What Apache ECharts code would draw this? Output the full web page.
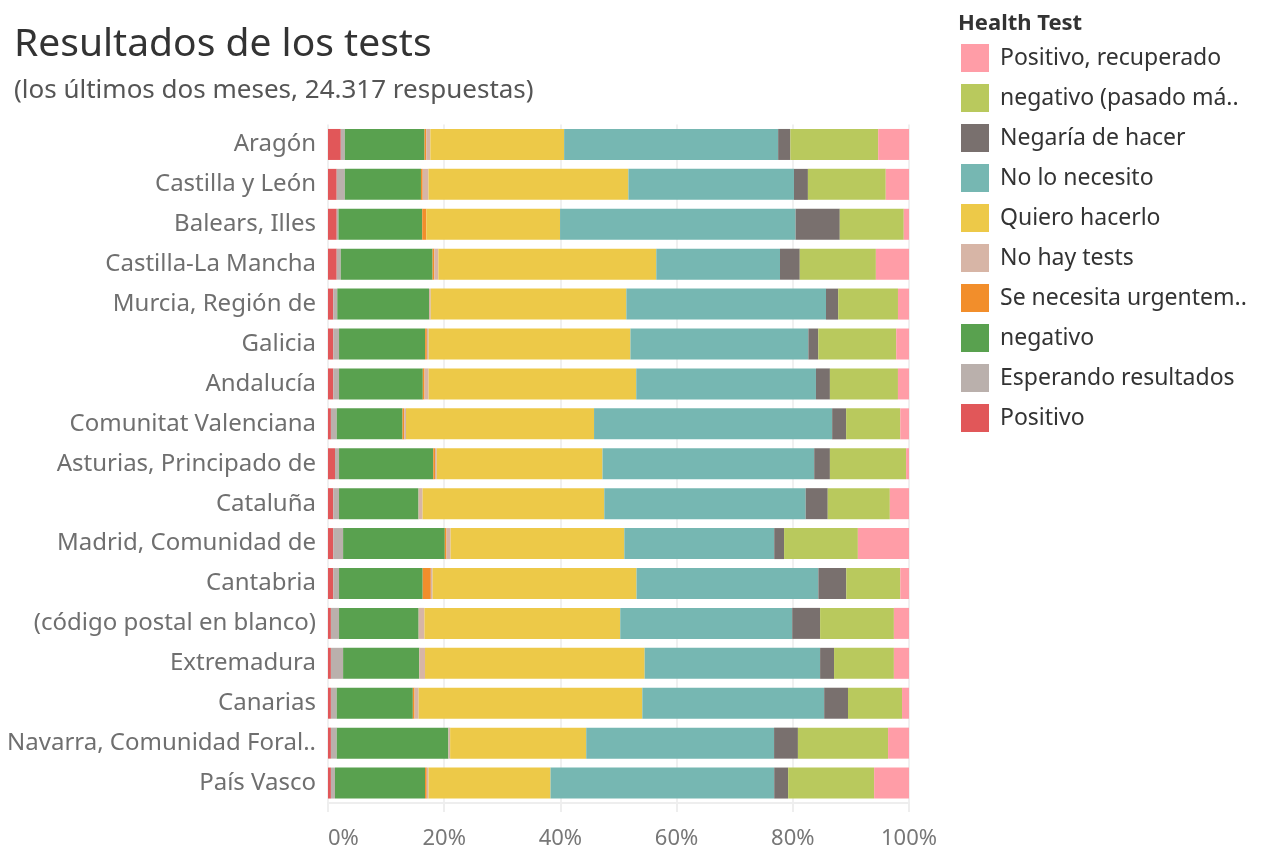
<!DOCTYPE html>
<html>
<head>
<meta charset="utf-8">
<title>Resultados de los tests</title>
<script src="https://cdn.jsdelivr.net/npm/echarts@6/dist/echarts.min.js"></script>
<style>
  html, body { margin: 0; padding: 0; background: #fff; }
  #chart { width: 1263px; height: 850px; }
</style>
</head>
<body>
<div id="chart"></div>
<script>
// categories, top to bottom
var regiones = [
  'Aragón', 'Castilla y León', 'Balears, Illes', 'Castilla-La Mancha',
  'Murcia, Región de', 'Galicia', 'Andalucía', 'Comunitat Valenciana',
  'Asturias, Principado de', 'Cataluña', 'Madrid, Comunidad de', 'Cantabria',
  '(código postal en blanco)', 'Extremadura', 'Canarias',
  'Navarra, Comunidad Foral..', 'País Vasco'
]

// share of answers (%) per region, in stacking order (left to right)
var positivo      = [2.2, 1.5, 1.5, 1.5, 0.9, 0.9, 0.9, 0.5, 1.2, 0.9, 0.9, 0.9, 0.5, 0.5, 0.5, 0.5, 0.5]
var esperando     = [0.7, 1.4, 0.3, 0.7, 0.7, 1.0, 1.0, 1.0, 0.7, 1.0, 1.7, 1.0, 1.4, 2.1, 1.0, 1.0, 0.7]
var negativo      = [13.7, 13.1, 14.4, 15.8, 15.8, 14.8, 14.4, 11.3, 16.2, 13.7, 17.5, 14.4, 13.7, 13.1, 13.1, 19.2, 15.5]
var urgente       = [0.3, 0.3, 0.7, 0.3, 0, 0.3, 0.3, 0.3, 0.3, 0, 0.3, 1.4, 0, 0, 0.3, 0, 0.3]
var noHayTests    = [0.7, 1.0, 0, 0.7, 0.3, 0.3, 0.7, 0.3, 0.3, 0.7, 0.7, 0.3, 1.0, 1.0, 0.7, 0.3, 0.3]
var quiero        = [23.0, 34.4, 23.0, 37.5, 33.7, 34.7, 35.7, 32.3, 28.5, 31.3, 29.9, 35.1, 33.7, 37.8, 38.5, 23.4, 21.0]
var noNecesito    = [36.8, 28.5, 40.5, 21.3, 34.4, 30.6, 30.9, 40.9, 36.4, 34.7, 25.8, 31.3, 29.6, 30.2, 31.3, 32.3, 38.5]
var negaria       = [2.1, 2.4, 7.6, 3.4, 2.1, 1.7, 2.4, 2.4, 2.7, 3.8, 1.7, 4.8, 4.8, 2.4, 4.1, 4.1, 2.4]
var negativoPas   = [15.1, 13.4, 11.0, 13.1, 10.3, 13.4, 11.7, 9.3, 13.1, 10.7, 12.7, 9.3, 12.7, 10.3, 9.3, 15.5, 14.8]
var recuperado    = [5.3, 4.0, 0.9, 5.7, 1.9, 2.2, 1.9, 1.5, 0.5, 3.3, 8.8, 1.5, 2.6, 2.6, 1.2, 3.6, 6.0]

var xTicks = [0, 20, 40, 60, 80, 100]

var seriesDefs = [
  { name: 'Positivo', data: positivo, color: '#E15759' },
  { name: 'Esperando resultados', data: esperando, color: '#BAB0AC' },
  { name: 'negativo', data: negativo, color: '#59A14F' },
  { name: 'Se necesita urgentem..', data: urgente, color: '#F28E2B' },
  { name: 'No hay tests', data: noHayTests, color: '#D7B5A6' },
  { name: 'Quiero hacerlo', data: quiero, color: '#EDC948' },
  { name: 'No lo necesito', data: noNecesito, color: '#76B7B2' },
  { name: 'Negaría de hacer', data: negaria, color: '#79706E' },
  { name: 'negativo (pasado má..', data: negativoPas, color: '#B9C95D' },
  { name: 'Positivo, recuperado', data: recuperado, color: '#FF9DA7' }
]

// row totals, so each bar adds up to 100%
var totals = regiones.map(function(r, i) {
  return seriesDefs.reduce(function(s, d) { return s + d.data[i] }, 0)
})

var font = '"Noto Sans", sans-serif'

var myChart = echarts.init(document.getElementById('chart'))
myChart.setOption({
  animation: false,
  backgroundColor: '#fff',
  title: [
    {
      text: 'Resultados de los tests',
      subtext: '(los últimos dos meses, 24.317 respuestas)',
      left: 9,
      top: 20,
      itemGap: 14,
      textStyle: { fontFamily: font, fontSize: 39, fontWeight: 'normal', color: '#333' },
      subtextStyle: { fontFamily: font, fontSize: 26, color: '#555' }
    },
    {
      text: 'Health Test',
      left: 953,
      top: 8,
      textStyle: { fontFamily: font, fontSize: 22, fontWeight: 'bold', color: '#333' }
    }
  ],
  legend: {
    orient: 'vertical',
    left: 956,
    top: 39,
    itemWidth: 28,
    itemHeight: 28,
    itemGap: 12,
    icon: 'rect',
    selectedMode: false,
    data: seriesDefs.map(function(d) { return d.name }).reverse(),
    textStyle: { fontFamily: font, fontSize: 23, color: '#333', padding: [0, 0, 0, 6] }
  },
  grid: {
    left: 328,
    top: 124.5,
    width: 581,
    height: 680,
    containLabel: false
  },
  xAxis: {
    type: 'value',
    min: xTicks[0],
    max: xTicks[xTicks.length - 1],
    interval: 20,
    axisLine: { show: true, lineStyle: { color: '#eeeeee', width: 2 } },
    axisTick: { show: true, length: 9, lineStyle: { color: '#eeeeee', width: 2 } },
    splitLine: { show: true, lineStyle: { color: '#f0f0f0', width: 2 } },
    axisLabel: {
      formatter: '{value}%',
      fontFamily: font,
      fontSize: 22,
      color: '#777',
      margin: 25,
      alignMinLabel: 'left'
    }
  },
  yAxis: {
    type: 'category',
    inverse: true,
    data: regiones,
    axisLine: { show: false },
    axisTick: { show: false },
    axisLabel: { fontFamily: font, fontSize: 24, color: '#6f6f6f', margin: 12 }
  },
  series: seriesDefs.map(function(d) {
    return {
      name: d.name,
      type: 'bar',
      stack: 'total',
      barWidth: 31,
      itemStyle: { color: d.color },
      emphasis: { disabled: true },
      data: d.data.map(function(v, i) { return v / totals[i] * 100 })
    }
  })
})
</script>
</body>
</html>
